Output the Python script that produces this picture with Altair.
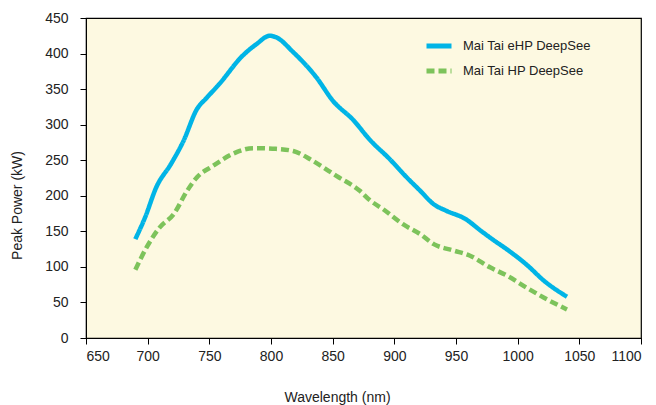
import altair as alt
import pandas as pd

# Mai Tai eHP DeepSee
ehp_wl = [690, 698, 707, 719, 729, 740, 748, 758, 777, 788, 799, 804, 818, 837, 850, 867, 880, 896, 910, 921, 932, 942, 958, 970, 981, 991, 1008, 1021, 1040]
ehp_pw = [139, 170, 212, 245, 277, 322, 338, 357, 397, 413, 425, 423, 402, 366, 334, 306, 279, 252, 226, 207, 188, 179, 167, 151, 137, 125, 102, 81, 58]

# Mai Tai HP DeepSee
hp_wl = [690, 699, 710, 721, 732, 740, 753, 769, 786, 804, 818, 834, 853, 872, 880, 891, 907, 921, 932, 948, 961, 978, 991, 1007, 1021, 1040]
hp_pw = [96, 127, 156, 174, 207, 226, 242, 259, 267, 266, 263, 249, 228, 207, 194, 181, 160, 146, 132, 123, 116, 99, 88, 71, 57, 40]

series = ["Mai Tai eHP DeepSee", "Mai Tai HP DeepSee"]

df = pd.concat([
    pd.DataFrame({"wl": ehp_wl, "pw": ehp_pw, "s": series[0]}),
    pd.DataFrame({"wl": hp_wl, "pw": hp_pw, "s": series[1]}),
])

FONT = "Liberation Sans"

legend_kw = dict(title=None, orient="none", legendX=338, legendY=13,
                 symbolType="stroke", symbolSize=625, symbolStrokeWidth=5,
                 labelFont=FONT, labelFontSize=13, labelColor="#222",
                 labelOffset=9, rowPadding=0, padding=0)

chart = alt.Chart(df).mark_line(strokeWidth=4.5, interpolate="monotone").encode(
    x=alt.X("wl:Q", scale=alt.Scale(domain=[650, 1100], nice=False, zero=False),
            axis=alt.Axis(values=list(range(650, 1101, 50)), format="d", title="Wavelength (nm)",
                          grid=False, tickSize=6, labelPadding=5, domainColor="black",
                          tickColor="black", labelFont=FONT, labelFontSize=14,
                          labelColor="#222", titleFont=FONT, titleFontSize=14,
                          titleFontWeight="normal", titleColor="#222",
                          titleX=251, titleY=59, titleBaseline="middle")),
    y=alt.Y("pw:Q", scale=alt.Scale(domain=[0, 450], nice=False),
            axis=alt.Axis(values=list(range(0, 451, 50)), format="d", title="Peak Power (kW)",
                          grid=False, tickSize=6, labelPadding=12, domainColor="black",
                          tickColor="black", labelFont=FONT, labelFontSize=14,
                          labelColor="#222", titleFont=FONT, titleFontSize=14,
                          titleFontWeight="normal", titleColor="#222",
                          titleX=-69, titleY=187, titleBaseline="middle", titleAngle=-90)),
    color=alt.Color("s:N", scale=alt.Scale(domain=series, range=["#00B4E6", "#7DC35B"]),
                    legend=alt.Legend(**legend_kw)),
    strokeDash=alt.StrokeDash("s:N", scale=alt.Scale(domain=series, range=[[1, 0], [8, 4]]),
                              legend=alt.Legend(**legend_kw)),
).properties(
    width=555, height=320,
    background="white",
    autosize=alt.AutoSizeParams(type="none"),
    padding={"left": 78, "top": 10, "right": 7, "bottom": 72},
).configure_view(
    fill="#FDF9E1", stroke="black", strokeWidth=1.2
)

chart.save("out.html", embed_options={"renderer": "svg", "actions": False})
